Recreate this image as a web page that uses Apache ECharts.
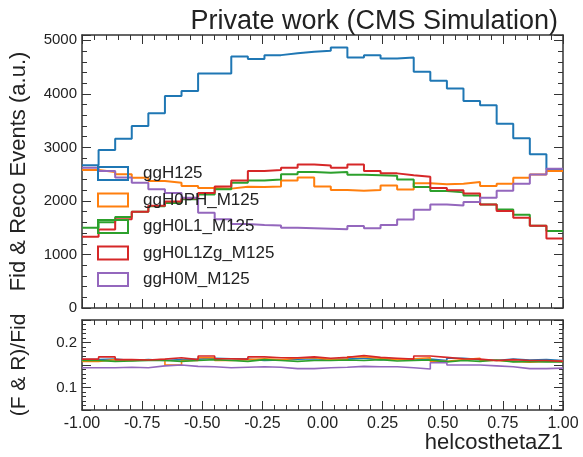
<!DOCTYPE html>
<html>
<head>
<meta charset="utf-8">
<script src="https://cdn.jsdelivr.net/npm/echarts@6/dist/echarts.min.js"></script>
<style>
html,body{margin:0;padding:0;background:#fff;}
#c{width:583px;height:457px;}
</style>
</head>
<body>
<div id="c"></div>
<script>
// ---- data (29 bins over helcosthetaZ1 in [-1, 1]) ----
const xMin = -1, xMax = 1, nBins = 29;
const seriesNames = ['ggH125', 'ggH0PH_M125', 'ggH0L1_M125', 'ggH0L1Zg_M125', 'ggH0M_M125'];
const seriesColors = ['#1f77b4', '#ff7f0e', '#2ca02c', '#d62728', '#9467bd'];

const ggH125 = [2665, 2950, 3164, 3400, 3638, 3962, 4056, 4380, 4380, 4700, 4650, 4724, 4761, 4786, 4805,
  4867, 4680, 4724, 4661, 4680, 4412, 4243, 4100, 3869, 3788, 3444, 3170, 2870, 2590];
const ggH0PH = [2577, 2540, 2500, 2434, 2371, 2340, 2280, 2240, 2230, 2265, 2260, 2270, 2380, 2440, 2270,
  2203, 2190, 2203, 2290, 2215, 2330, 2310, 2321, 2352, 2278, 2321, 2434, 2496, 2558];
const ggH0L1 = [1498, 1600, 1700, 1800, 1900, 1960, 2030, 2120, 2220, 2340, 2380, 2400, 2500, 2540, 2527,
  2540, 2490, 2480, 2470, 2400, 2260, 2184, 2160, 2100, 1934, 1841, 1740, 1535, 1440];
const ggH0L1Zg = [1330, 1466, 1660, 1800, 1910, 1990, 2050, 2150, 2270, 2380, 2558, 2577, 2620, 2683, 2660,
  2620, 2680, 2558, 2515, 2480, 2450, 2240, 2200, 2140, 1934, 1810, 1685, 1535, 1300];
const ggH0M = [2620, 2560, 2440, 2340, 2220, 2150, 2060, 1780, 1660, 1570, 1550, 1540, 1500, 1490, 1480,
  1470, 1530, 1490, 1550, 1654, 1835, 1934, 1916, 1978, 2059, 2190, 2320, 2496, 2600];

const ratioH125 = [0.162, 0.163, 0.160, 0.162, 0.160, 0.162, 0.163, 0.165, 0.164, 0.163, 0.160, 0.161, 0.163, 0.164, 0.162,
  0.163, 0.165, 0.162, 0.163, 0.161, 0.163, 0.160, 0.165, 0.162, 0.160, 0.163, 0.161, 0.162, 0.160];
const ratioH0PH = [0.158, 0.162, 0.160, 0.161, 0.162, 0.150, 0.160, 0.166, 0.160, 0.162, 0.164, 0.162, 0.165, 0.166, 0.162,
  0.163, 0.168, 0.165, 0.162, 0.164, 0.166, 0.158, 0.162, 0.165, 0.160, 0.158, 0.156, 0.158, 0.158];
const ratioH0L1 = [0.160, 0.158, 0.159, 0.160, 0.160, 0.158, 0.160, 0.162, 0.160, 0.158, 0.162, 0.160, 0.158, 0.160, 0.160,
  0.161, 0.160, 0.162, 0.159, 0.160, 0.161, 0.157, 0.160, 0.158, 0.161, 0.157, 0.158, 0.157, 0.157];
const ratioH0L1Zg = [0.163, 0.168, 0.162, 0.161, 0.163, 0.166, 0.162, 0.170, 0.164, 0.163, 0.168, 0.166, 0.166, 0.168, 0.165,
  0.167, 0.171, 0.167, 0.165, 0.163, 0.170, 0.167, 0.164, 0.163, 0.160, 0.162, 0.160, 0.160, 0.158];
const ratioH0M = [0.144, 0.144, 0.145, 0.144, 0.148, 0.150, 0.147, 0.146, 0.144, 0.145, 0.146, 0.145, 0.142, 0.142, 0.144,
  0.145, 0.147, 0.146, 0.146, 0.144, 0.141, 0.155, 0.150, 0.150, 0.148, 0.146, 0.142, 0.142, 0.143];

const xTickLabels = ['-1.00', '-0.75', '-0.50', '-0.25', '0.00', '0.25', '0.50', '0.75', '1.00'];

// ---- build step data (left edges + closing right edge) ----
function stepData(vals) {
  const w = (xMax - xMin) / nBins;
  const d = vals.map((v, i) => [xMin + i * w, v]);
  d.push([xMax, vals[vals.length - 1]]);
  return d;
}

const FONT = 'Liberation Sans, Arial, Helvetica, sans-serif';
const AX = '#333';

function axisLine() { return { show: true, onZero: false, lineStyle: { color: AX, width: 1.5 } }; }

function xAxisDef(grid, pos, labels) {
  return {
    type: 'value', gridIndex: grid, position: pos, min: xMin, max: xMax, interval: 0.25,
    axisLine: axisLine(),
    axisTick: { show: true, inside: true, length: 9, lineStyle: { color: AX } },
    minorTick: { show: true, splitNumber: 5, length: 5, lineStyle: { color: AX } },
    splitLine: { show: false },
    axisLabel: labels ? {
      show: true, fontFamily: FONT, fontSize: 16, color: '#222', margin: 6,
      formatter: v => { const s = v.toFixed(2); return xTickLabels.indexOf(s) >= 0 ? s : ''; }
    } : { show: false }
  };
}

const topGrid = { left: 82, top: 35, width: 481, height: 273, containLabel: false, outerBoundsMode: 'none' };
const botGrid = { left: 82, top: 320, width: 481, height: 90, containLabel: false, outerBoundsMode: 'none' };

const topVals = [ggH125, ggH0PH, ggH0L1, ggH0L1Zg, ggH0M];
const ratioVals = [ratioH125, ratioH0PH, ratioH0L1, ratioH0L1Zg, ratioH0M];

const series = [];
topVals.forEach((vals, i) => {
  series.push({
    name: seriesNames[i], type: 'line', step: 'end', xAxisIndex: 0, yAxisIndex: 0,
    data: stepData(vals), symbol: 'none', animation: false,
    lineStyle: { color: seriesColors[i], width: 2 }, itemStyle: { color: seriesColors[i] }
  });
});
ratioVals.forEach((vals, i) => {
  series.push({
    name: seriesNames[i] + ' ratio', type: 'line', step: 'end', xAxisIndex: 2, yAxisIndex: 2,
    data: stepData(vals), symbol: 'none', animation: false,
    lineStyle: { color: seriesColors[i], width: 1.6 }, itemStyle: { color: seriesColors[i] }
  });
});

const option = {
  backgroundColor: '#fff',
  animation: false,
  title: {
    text: 'Private work (CMS Simulation)', right: 20, top: 3,
    textStyle: { fontFamily: FONT, fontSize: 27, fontWeight: 'normal', color: '#222' }
  },
  legend: {
    orient: 'vertical', left: 92, top: 160, icon: 'rect',
    itemWidth: 30, itemHeight: 13, itemGap: 9.5,
    textStyle: { fontFamily: FONT, fontSize: 17, color: '#222', lineHeight: 17, padding: [0, 0, 0, 10] },
    data: seriesNames.map((n, i) => ({
      name: n, icon: 'rect',
      itemStyle: { color: 'rgba(255,255,255,0)', borderColor: seriesColors[i], borderWidth: 2 }
    }))
  },
  grid: [topGrid, botGrid],
  xAxis: [
    xAxisDef(0, 'bottom', false),
    xAxisDef(0, 'top', false),
    Object.assign(xAxisDef(1, 'bottom', true), {
      name: 'helcosthetaZ1', nameLocation: 'end', nameGap: 0,
      nameTextStyle: { fontFamily: FONT, fontSize: 22, color: '#222', align: 'right', verticalAlign: 'top', padding: [22, 0, 0, 0] }
    }),
    xAxisDef(1, 'top', false)
  ],
  yAxis: [
    {
      type: 'value', gridIndex: 0, position: 'left', min: 0, max: 5100, interval: 1000,
      name: 'Fid & Reco Events (a.u.)', nameLocation: 'middle', nameGap: 38, nameRotate: 90,
      nameTextStyle: { fontFamily: FONT, fontSize: 22, color: '#222', padding: [0, 0, 14, 0] },
      axisLine: axisLine(),
      axisTick: { show: true, inside: true, length: 9, lineStyle: { color: AX } },
      minorTick: { show: true, splitNumber: 5, length: 5, lineStyle: { color: AX } },
      splitLine: { show: false },
      axisLabel: { fontFamily: FONT, fontSize: 15, color: '#222', margin: 5, showMaxLabel: false, formatter: v => String(v) }
    },
    {
      type: 'value', gridIndex: 0, position: 'right', min: 0, max: 5100, interval: 1000,
      axisLine: axisLine(),
      axisTick: { show: true, inside: true, length: 9, lineStyle: { color: AX } },
      minorTick: { show: true, splitNumber: 5, length: 5, lineStyle: { color: AX } },
      splitLine: { show: false }, axisLabel: { show: false }
    },
    {
      type: 'value', gridIndex: 1, position: 'left', min: 0.05, max: 0.25, interval: 0.05,
      name: '(F & R)/Fid', nameLocation: 'middle', nameGap: 38, nameRotate: 90,
      nameTextStyle: { fontFamily: FONT, fontSize: 21, color: '#222', padding: [0, 0, 14, 0] },
      axisLine: axisLine(),
      axisTick: { show: true, inside: true, length: 9, lineStyle: { color: AX } },
      minorTick: { show: true, splitNumber: 5, length: 4, lineStyle: { color: AX } },
      splitLine: { show: false },
      axisLabel: {
        fontFamily: FONT, fontSize: 15, color: '#222', margin: 5,
        formatter: v => Math.abs(v - 0.1) < 1e-6 ? '0.1' : (Math.abs(v - 0.2) < 1e-6 ? '0.2' : '')
      }
    },
    {
      type: 'value', gridIndex: 1, position: 'right', min: 0.05, max: 0.25, interval: 0.05,
      axisLine: axisLine(),
      axisTick: { show: true, inside: true, length: 9, lineStyle: { color: AX } },
      minorTick: { show: true, splitNumber: 5, length: 4, lineStyle: { color: AX } },
      splitLine: { show: false }, axisLabel: { show: false }
    }
  ],
  series: series
};

const chart = echarts.init(document.getElementById('c'), null, { renderer: 'canvas' });
chart.setOption(option);
</script>
</body>
</html>
